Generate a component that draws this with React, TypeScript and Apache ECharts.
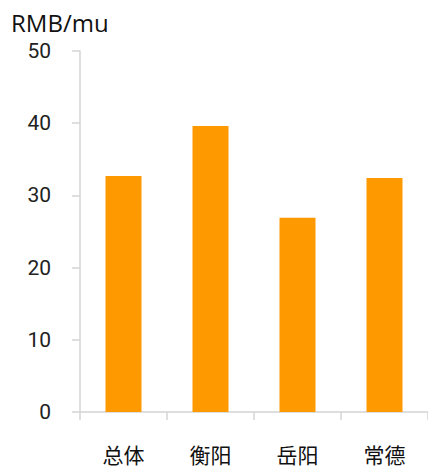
import React, { useEffect, useRef } from "react";
import * as echarts from "echarts";

const categories = ["总体", "衡阳", "岳阳", "常德"];
const values = [32.7, 39.6, 26.9, 32.4];
const yTicks = { min: 0, max: 50, interval: 10 };
const unitLabel = "RMB/mu";

export default function App() {
  const ref = useRef<HTMLDivElement>(null);
  useEffect(() => {
    if (!ref.current) return;
    const chart = echarts.init(ref.current, null, { renderer: "svg" });
    chart.setOption({
      animation: false,
      backgroundColor: "#ffffff",
      graphic: [
        {
          type: "text",
          left: 11,
          top: 10,
          style: {
            text: unitLabel,
            fill: "#111",
            font: "24px 'Open Sans', 'Noto Sans', sans-serif",
          },
        },
      ],
      grid: { left: 80, right: 0, top: 51, bottom: 55, containLabel: false },
      xAxis: {
        type: "category",
        data: categories,
        axisLine: { show: true, lineStyle: { color: "#d4d4d4", width: 1.5 } },
        axisTick: { show: true, length: 8, lineStyle: { color: "#d4d4d4", width: 1.5 } },
        axisLabel: {
          margin: 31,
          color: "#111",
          fontSize: 21,
          fontFamily: "'Noto Sans CJK SC', sans-serif",
        },
      },
      yAxis: {
        type: "value",
        min: yTicks.min,
        max: yTicks.max,
        interval: yTicks.interval,
        splitLine: { show: false },
        axisLine: { show: true, lineStyle: { color: "#d4d4d4", width: 1.5 } },
        axisTick: { show: true, length: 8, lineStyle: { color: "#d4d4d4", width: 1.5 } },
        axisLabel: {
          margin: 29,
          color: "#222",
          fontSize: 21,
          fontFamily: "Roboto, sans-serif",
        },
      },
      series: [
        {
          type: "bar",
          data: values,
          barWidth: 36,
          itemStyle: { color: "#FF9900" },
        },
      ],
    });
    return () => chart.dispose();
  }, []);
  return (
    <div
      ref={ref}
      style={{ position: "fixed", left: 0, top: 0, width: 428, height: 467 }}
    />
  );
}
